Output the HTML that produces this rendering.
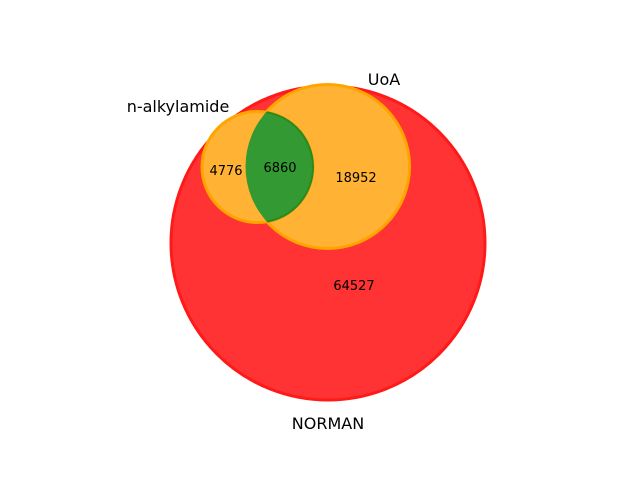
<!DOCTYPE html>
<html><head><meta charset="utf-8"><style>
html,body{margin:0;padding:0;background:#fff;}
svg{display:block;font-family:"DejaVu Sans","Liberation Sans",sans-serif;}
</style></head><body>
<svg id="chart" width="640" height="480" viewBox="0 0 640 480">
<defs>
<clipPath id="clipUoa"><circle id="clipUoaC" cx="0" cy="0" r="0"/></clipPath>
</defs>
<g id="g"></g>
</svg>
<script>
const setNames = ["NORMAN", "UoA", "n-alkylamide"];
const setSizes = [157, 82, 55.5];
const setCenters = [[328, 243], [327.5, 166.5], [257.5, 167]];
const regionLabels = ["4776", "6860", "18952", "64527"];
const regionPositions = [[226, 170], [280, 167], [356, 177], [354, 285]];
const setLabelPos = [[328, 423], [384, 79], [178, 106]];

const NS = "http://www.w3.org/2000/svg";
const g = document.getElementById("g");
function mk(tag, attrs){const e=document.createElementNS(NS,tag);for(const k in attrs)e.setAttribute(k,attrs[k]);g.appendChild(e);return e;}

const fills = ["#ff3333", "#ffb233", "#ffb233"];
const strokes = ["#ff1a1a", "#ffa500", "#ffa500"];
for (let i = 0; i < 3; i++) {
  const c = mk("circle", {cx: setCenters[i][0], cy: setCenters[i][1], r: setSizes[i], fill: fills[i], stroke: strokes[i], "stroke-width": 3});
  
  
}
const cc = document.getElementById("clipUoaC");
cc.setAttribute("cx", setCenters[1][0]); cc.setAttribute("cy", setCenters[1][1]); cc.setAttribute("r", setSizes[1]);
const lens = mk("circle", {cx: setCenters[2][0], cy: setCenters[2][1], r: setSizes[2], fill: "#339933", "clip-path": "url(#clipUoa)"});


const lensB1 = mk("circle", {cx: setCenters[2][0], cy: setCenters[2][1], r: setSizes[2], fill: "none", stroke: "#2b8a1f", "stroke-width": 2, "clip-path": "url(#clipUoa)"});



for (let i = 0; i < regionLabels.length; i++) {
  const t = mk("text", {x: regionPositions[i][0], y: regionPositions[i][1] + 5, "text-anchor": "middle", "font-size": 13, fill: "#000"});
  t.textContent = regionLabels[i];
  
  
}
for (let i = 0; i < 3; i++) {
  const t = mk("text", {x: setLabelPos[i][0], y: setLabelPos[i][1] + 6, "text-anchor": "middle", "font-size": 16, fill: "#000"});
  t.textContent = setNames[i];
  
  
}
</script>
</body></html>
